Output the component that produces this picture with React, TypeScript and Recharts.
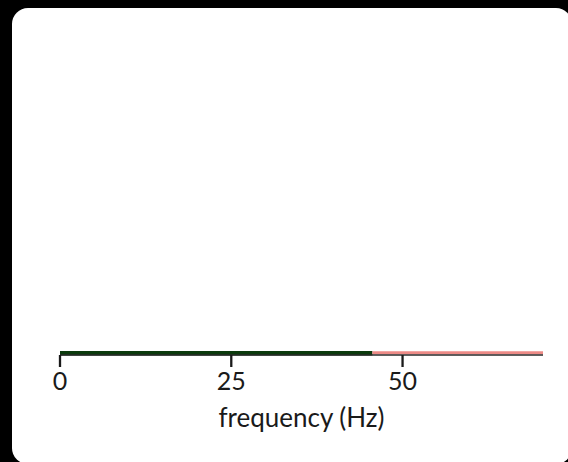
import { LineChart, Line, XAxis, YAxis } from "recharts";

// frequency bands drawn along the axis (Hz)
const bandNames = ["low", "high"];
const bandStart = [0, 45.6];
const bandEnd = [45.6, 70.5];
const bandValue = [0, 0];

const xTicks = [0, 25, 50];
const xDomain = [0, 70.5];
const xLabel = "frequency (Hz)";

const bandStyle: Record<string, { color: string; width: number; lift: number }> = {
  low: { color: "#0b3a0c", width: 4.5, lift: 1.7 },
  high: { color: "#ec8a86", width: 3, lift: 2.2 },
};

const font = "Lato, 'Open Sans', sans-serif";

export default function App() {
  const series = bandNames.map((name, i) => ({
    name,
    data: [
      { f: bandStart[i], v: bandValue[i] },
      { f: bandEnd[i], v: bandValue[i] },
    ],
  }));

  return (
    <div style={{ position: "fixed", inset: 0, background: "#000", overflow: "hidden" }}>
      <div
        style={{
          position: "absolute",
          left: 12,
          top: 8,
          width: 560,
          height: 456,
          background: "#fff",
          borderRadius: 16,
        }}
      />
      <div style={{ position: "absolute", left: 0, top: 0 }}>
        <LineChart width={568} height={462} margin={{ top: 20, right: 25, bottom: 27, left: 60 }}>
          <XAxis
            type="number"
            dataKey="f"
            domain={xDomain}
            ticks={xTicks}
            allowDuplicatedCategory={false}
            height={80}
            axisLine={{ stroke: "#2a2a2a", strokeWidth: 1.5 }}
            tickLine={{ stroke: "#1a1a1a", strokeWidth: 2.3 }}
            tickSize={12}
            tickMargin={5}
            tick={{ fill: "#1a1a1a", fontSize: 25, fontFamily: font }}
            label={{
              value: xLabel,
              position: "insideBottom",
              offset: 8,
              fill: "#1a1a1a",
              fontSize: 26,
              fontFamily: font,
            }}
          />
          <YAxis hide domain={[0, 1]} />
          {series.map((s) => (
            <Line
              key={s.name}
              data={s.data}
              dataKey="v"
              stroke={bandStyle[s.name].color}
              strokeWidth={bandStyle[s.name].width}
              style={{ transform: `translateY(-${bandStyle[s.name].lift}px)` }}
              dot={false}
              activeDot={false}
              isAnimationActive={false}
            />
          ))}
        </LineChart>
      </div>
    </div>
  );
}
